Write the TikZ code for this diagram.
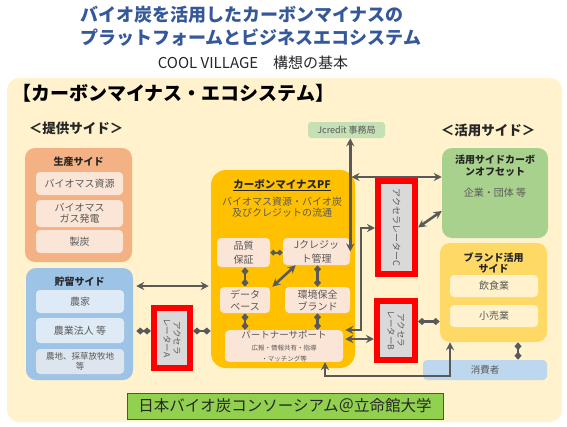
\documentclass[tikz,border=0pt]{standalone}
\usepackage{fontspec}
\setmainfont{Noto Sans CJK JP}
\usetikzlibrary{arrows.meta}
\definecolor{titleblue}{HTML}{35589A}
\definecolor{cream}{HTML}{FFF2CC}
\definecolor{prodbg}{HTML}{F4B183}
\definecolor{pinkcell}{HTML}{FBE5D6}
\definecolor{storebg}{HTML}{9DC3E6}
\definecolor{bluecell}{HTML}{DEEBF7}
\definecolor{pfbg}{HTML}{FFC000}
\definecolor{accred}{HTML}{FF0000}
\definecolor{accgray}{HTML}{D9D9D9}
\definecolor{jcrbg}{HTML}{C5E0B4}
\definecolor{usebg}{HTML}{A9D18E}
\definecolor{brandbg}{HTML}{FFD966}
\definecolor{consbg}{HTML}{BDD7EE}
\definecolor{bannerbg}{HTML}{92D050}
\definecolor{linkgray}{HTML}{595959}
\definecolor{textgray}{HTML}{595959}
\definecolor{darktext}{HTML}{262626}
\begin{document}
\begin{tikzpicture}[x=1pt,y=-1pt,line width=.5pt,
  >={Stealth[length=8pt,width=8pt]},
  panel/.style={rounded corners=10pt,inner sep=0pt},
  cell/.style={rounded corners=4pt,inner sep=0pt,align=center,text=textgray,font=\fontsize{10}{12}\selectfont},
  head/.style={inner sep=0pt,align=center,text=darktext,font=\bfseries\fontsize{10}{12}\selectfont},
  accel/.style={draw=accred,line width=6pt,fill=accgray,inner sep=0pt},
  acctext/.style={inner sep=0pt,align=center,text=textgray,font=\fontsize{8.5}{10}\selectfont},
  link/.style={draw=linkgray,line width=2.5pt,<->},
  dlink/.style={draw=linkgray,line width=2.5pt,{Diamond[length=8pt,width=7pt]}-{Diamond[length=8pt,width=7pt]}},
  sdlink/.style={draw=linkgray,line width=2pt,{Diamond[length=6pt,width=6pt]}-{Diamond[length=6pt,width=6pt]}}]
\path[use as bounding box] (0,0) rectangle (567,426);
\fill[cream,rounded corners=12pt] (7,78) rectangle (562,422);
\node[anchor=west,inner sep=0pt,text=titleblue,font=\bfseries\fontsize{18}{20}\selectfont] (title1) at (80,15) {バイオ炭を活用したカーボンマイナスの};
\node[anchor=west,inner sep=0pt,text=titleblue,font=\bfseries\fontsize{18}{20}\selectfont] (title2) at (80,38) {プラットフォームとビジネスエコシステム};
\node[inner sep=0pt,text=darktext,font=\fontsize{15}{17}\selectfont] (subtitle) at (253,63) {COOL VILLAGE　構想の基本};
\node[anchor=west,inner sep=0pt,text=black,font=\bfseries\fontsize{19}{21}\selectfont] (eco) at (12,93) {【カーボンマイナス・エコシステム】};
\node[head,font=\bfseries\fontsize{13.5}{15}\selectfont] (supply) at (76,128) {＜提供サイド＞};
\node[head,font=\bfseries\fontsize{13.5}{15}\selectfont] (usage) at (488,130) {＜活用サイド＞};
\node[panel,fill=prodbg,minimum width=107,minimum height=114] (prod) at (78.5,205) {};
\node[head] (prodhead) at (78.5,162) {生産サイド};
\node[cell,fill=pinkcell,minimum width=87,minimum height=23] (p1) at (79.5,183.5) {バイオマス資源};
\node[cell,fill=pinkcell,minimum width=87,minimum height=27,font=\fontsize{10}{11}\selectfont] (p2) at (79.5,213.5) {バイオマス\\ガス発電};
\node[cell,fill=pinkcell,minimum width=87,minimum height=23] (p3) at (79.5,241.5) {製炭};
\node[panel,fill=storebg,minimum width=107,minimum height=112] (store) at (79.5,324) {};
\node[head] (storehead) at (79.5,282) {貯留サイド};
\node[cell,fill=bluecell,minimum width=88,minimum height=23] (s1) at (80,301.5) {農家};
\node[cell,fill=bluecell,minimum width=88,minimum height=25] (s2) at (80,330.5) {農業法人 等};
\node[cell,fill=bluecell!70!accgray,minimum width=88,minimum height=25,font=\fontsize{8.5}{10}\selectfont] (s3) at (80,361.5) {農地、採草放牧地\\等};
\node[panel,rounded corners=15pt,fill=pfbg,minimum width=144,minimum height=198] (pf) at (283,269) {};
\node[head,font=\bfseries\fontsize{10.5}{12}\selectfont] (pfhead) at (282,185) {\underline{カーボンマイナスPF}};
\node[cell,font=\fontsize{10}{11}\selectfont] (pfdesc) at (282,207) {バイオマス資源・バイオ炭\\及びクレジットの流通};
\node[cell,fill=pinkcell,minimum width=53,minimum height=29,font=\fontsize{10}{14}\selectfont] (q) at (243.5,252.5) {品質\\保証};
\node[cell,fill=pinkcell,minimum width=67,minimum height=27,font=\fontsize{10}{14}\selectfont] (jc) at (316.5,251.5) {Jクレジッ\\ト管理};
\node[cell,fill=pinkcell,minimum width=50,minimum height=26] (db) at (245,300) {データ\\ベース};
\node[cell,fill=pinkcell,minimum width=65,minimum height=26] (env) at (317.5,300) {環境保全\\ブランド};
\node[cell,fill=pinkcell,minimum width=118,minimum height=30,font=\fontsize{9.5}{11}\selectfont] (ps) at (284,346) {パートナーサポート\\[1pt]{\fontsize{6.5}{8}\selectfont 広報・情報共有・指導}\\{\fontsize{6.5}{8}\selectfont ・マッチング等}};
\node[cell,rounded corners=3pt,fill=jcrbg,minimum width=77,minimum height=16,font=\fontsize{9}{10}\selectfont] (jcr) at (346.5,130) {Jcredit 事務局};
\node[panel,fill=usebg,minimum width=106,minimum height=90] (use) at (495,193) {};
\node[head] (usehead) at (495,166) {活用サイドカーボ\\ンオフセット};
\node[cell] (usebody) at (495,193) {企業・団体 等};
\node[panel,fill=brandbg,minimum width=107,minimum height=99] (brand) at (493.5,292.5) {};
\node[head,font=\bfseries\fontsize{10}{11}\selectfont] (brandhead) at (493.5,262.5) {ブランド活用\\サイド};
\node[cell,fill=cream,minimum width=88,minimum height=22] (b1) at (494,286) {飲食業};
\node[cell,fill=cream,minimum width=88,minimum height=22] (b2) at (494,316) {小売業};
\node[cell,fill=consbg,minimum width=124,minimum height=20,font=\fontsize{9.5}{11}\selectfont] (cons) at (485,370) {消費者};
\node[accel,minimum width=36,minimum height=60] (accA) at (172,338) {};
\node[acctext,rotate=-90] (accAtxt) at (accA) {アクセラ\\レーターA};
\node[accel,minimum width=38,minimum height=59] (accB) at (396,330.5) {};
\node[acctext,rotate=-90] (accBtxt) at (accB) {アクセラ\\レーターB};
\node[accel,minimum width=37,minimum height=93] (accC) at (396.5,227.5) {};
\node[acctext,rotate=-90,font=\fontsize{9}{10}\selectfont] (accCtxt) at (accC) {アクセラレーターC};
\node[draw=darktext!80,line width=1pt,fill=bannerbg,minimum width=316,minimum height=26,inner sep=0pt,text=darktext,font=\fontsize{15.5}{17}\selectfont] (banner) at (285,406) {日本バイオ炭コンソーシアム＠立命館大学};
\coordinate (hub) at (350,177);
\coordinate (cturn) at (361,228);
\draw[link] (jc.east |- jcr.south) -- (jc.east);
\draw[link] ([xshift=1.5pt]hub) -- (hub -| use.west);
\draw[link] (accC.east) -- ([yshift=-18pt]use.west);
\draw[link] ([xshift=2pt]ps.north east) -| (cturn) -- (cturn -| accC.west);
\draw[link] ([xshift=2pt,yshift=7pt]ps.east) -- ([yshift=7pt]ps.east -| accB.west);
\draw[dlink] ([yshift=9pt]accB.east) -- ([yshift=9pt]accB.east -| brand.west);
\draw[link] ([xshift=41pt]ps.south) -- ++(0,14) -| ([xshift=-43.5pt]brand.south);
\draw[dlink] ([xshift=24.5pt]brand.south) -- ([xshift=24.5pt]brand.south |- cons.north);
\draw[link] ([xshift=3pt,yshift=38pt]store.east) -- ([xshift=-2pt,yshift=38pt]store.east -| pf.west);
\draw[dlink] ([xshift=3pt,yshift=-7pt]store.east) -- ([yshift=-7pt]store.east -| accA.west);
\draw[dlink] ([yshift=7pt]accA.east) -- ([yshift=7pt]accA.east -| pf.west);
\draw[dlink] (db.north |- q.south) -- (db.north);
\draw[dlink] (env.north |- jc.south) -- (env.north);
\draw[dlink] (db.south) -- (db.south |- ps.north);
\draw[dlink] (env.south) -- (env.south |- ps.north);
\draw[sdlink] (q.east) -- (q.east -| jc.west);
\draw[link] ([xshift=2pt]db.north east) -- ([xshift=13pt]jc.south west);
\end{tikzpicture}
\end{document}
